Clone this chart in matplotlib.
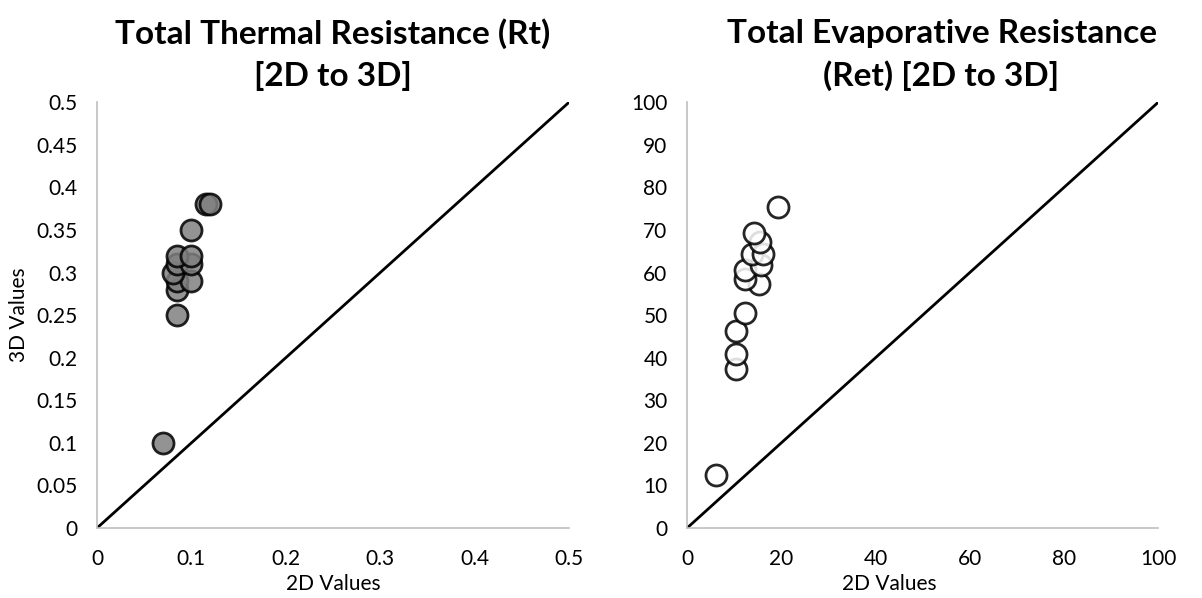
import matplotlib
matplotlib.use('Agg')
import matplotlib.pyplot as plt

plt.rcParams['font.family'] = ['Lato', 'DejaVu Sans']

# Rt: 2D vs 3D values
rt_2d = [0.07, 0.085, 0.085, 0.085, 0.10, 0.08, 0.085, 0.10, 0.085, 0.10, 0.10, 0.115, 0.12]
rt_3d = [0.10, 0.25, 0.28, 0.29, 0.29, 0.30, 0.31, 0.31, 0.32, 0.32, 0.35, 0.38, 0.38]

# Ret: 2D vs 3D values
ret_2d = [6.2, 10.3, 10.3, 10.3, 12.3, 15.3, 12.3, 12.3, 15.7, 13.7, 16.1, 15.4, 14.3, 19.3]
ret_3d = [12.4, 37.3, 40.8, 46.3, 50.5, 57.2, 58.6, 60.6, 61.7, 64.3, 64.3, 67.2, 69.3, 75.3]

rt_ticks_x = [0, 0.1, 0.2, 0.3, 0.4, 0.5]
rt_ticks_y = [0, 0.05, 0.1, 0.15, 0.2, 0.25, 0.3, 0.35, 0.4, 0.45, 0.5]
ret_ticks_x = [0, 20, 40, 60, 80, 100]
ret_ticks_y = list(range(0, 101, 10))

fig = plt.figure(figsize=(12.02, 5.98), dpi=100)
ax1 = fig.add_axes([0.0807, 0.117, 0.3927, 0.712])
ax2 = fig.add_axes([0.5716, 0.117, 0.392, 0.712])


def style(ax, lim, xt, yt, xlab_x=0.5):
    ax.set_xlim(0, lim)
    ax.set_ylim(0, lim)
    ax.plot([0, lim], [0, lim], color='black', lw=2, zorder=1)
    ax.set_xticks(xt)
    ax.set_yticks(yt)
    ax.set_xticklabels([f'{v:g}' for v in xt])
    ax.set_yticklabels([f'{v:g}' for v in yt])
    ax.tick_params(axis='x', length=0, labelsize=15, pad=15)
    ax.tick_params(axis='y', length=0, labelsize=15, pad=14)
    for s in ['top', 'right']:
        ax.spines[s].set_visible(False)
    for s in ['left', 'bottom']:
        ax.spines[s].set_color('#bfbfbf')
        ax.spines[s].set_linewidth(1.2)
    ax.set_xlabel('2D Values', fontsize=15, labelpad=4, x=xlab_x)


style(ax1, 0.5, rt_ticks_x, rt_ticks_y)
style(ax2, 100, ret_ticks_x, ret_ticks_y, xlab_x=0.43)

ax1.scatter(rt_2d, rt_3d, s=230, facecolor='#808080', edgecolor='black',
            linewidths=2, alpha=0.85, zorder=3)
ax2.scatter(ret_2d, ret_3d, s=230, facecolor='white', edgecolor='black',
            linewidths=2, alpha=0.85, zorder=3)

ax1.set_ylabel('3D Values', fontsize=15, labelpad=5)

ax1.set_title('Total Thermal Resistance (Rt)\n[2D to 3D]', fontsize=24,
              fontweight='bold', pad=12, linespacing=1.45)
ax2.set_title('Total Evaporative Resistance\n(Ret) [2D to 3D]', fontsize=24,
              fontweight='bold', pad=12, linespacing=1.45, x=0.54)

fig.savefig('out.png', dpi=100)
